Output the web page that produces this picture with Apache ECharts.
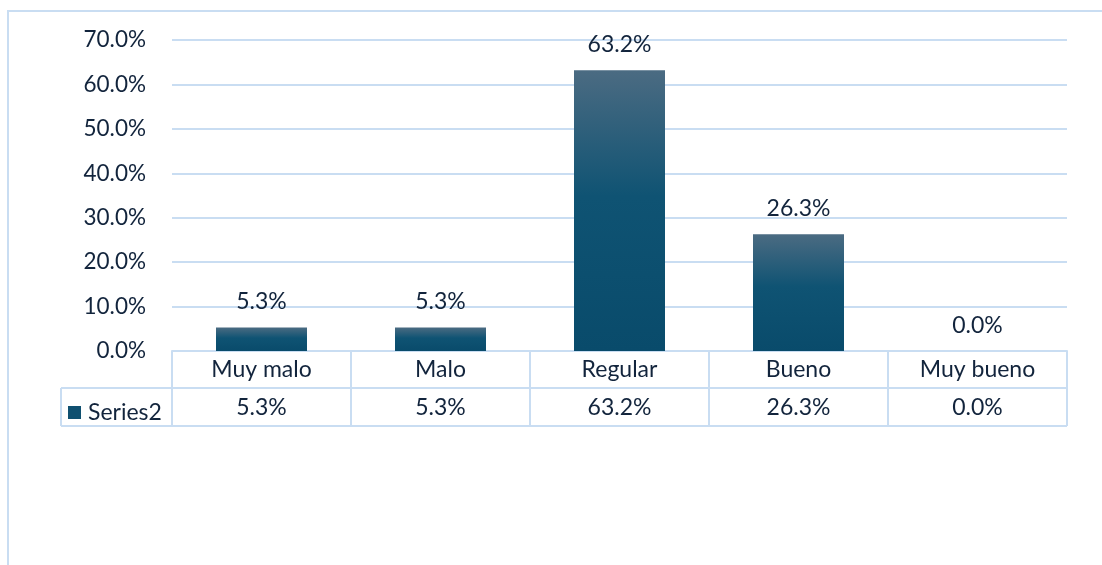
<!DOCTYPE html>
<html>
<head>
<meta charset="utf-8">
<style>
  html, body { margin: 0; padding: 0; background: #fff; }
  #chart { width: 1102px; height: 565px; }
</style>
<script src="https://cdn.jsdelivr.net/npm/echarts@6/dist/echarts.min.js"></script>
</head>
<body>
<div id="chart"></div>
<script>
const categories = ['Muy malo', 'Malo', 'Regular', 'Bueno', 'Muy bueno']
const values = [5.3, 5.3, 63.2, 26.3, 0.0]
const seriesName = 'Series2'

const textColor = '#12243c'
const lineColor = '#c9ddf2'
const font = 'Lato'
const fmt = (v) => Number(v).toFixed(1) + '%'

const grid = { left: 172, right: 35, top: 40, bottom: 214 }
const W = 1102, H = 565
const plotBottom = H - grid.bottom
const plotRight = W - grid.right
const rowH = 37
const tableBottom = plotBottom + 75

const chart = echarts.init(document.getElementById('chart'))

const option = {
  animation: false,
  textStyle: { fontFamily: font },
  grid: grid,
  legend: {
    data: [{ name: seriesName, itemStyle: { color: '#0f5070' } }],
    left: 63,
    top: plotBottom + rowH + 8,
    icon: 'rect',
    itemWidth: 13,
    itemHeight: 13,
    itemGap: 0,
    textStyle: { fontSize: 23, color: textColor, fontFamily: font, padding: [0, 0, 0, 2] },
  },
  xAxis: [
    {
      type: 'category',
      data: categories,
      axisLine: { lineStyle: { color: lineColor, width: 2 } },
      axisTick: { show: true, length: 75, lineStyle: { color: lineColor, width: 2 } },
      axisLabel: { fontSize: 23, color: textColor, margin: 7, fontFamily: font },
    },
    {
      type: 'category',
      data: categories,
      position: 'bottom',
      offset: 0,
      axisLine: { show: false },
      axisTick: { show: false },
      axisLabel: {
        fontSize: 23,
        color: textColor,
        margin: 45,
        fontFamily: font,
        formatter: (v, i) => fmt(values[i]),
      },
    },
  ],
  yAxis: {
    type: 'value',
    min: 0,
    max: 70,
    interval: 10,
    axisLine: { show: false },
    axisTick: { show: false },
    splitLine: { lineStyle: { color: lineColor, width: 2 } },
    axisLabel: { fontSize: 22.5, color: textColor, margin: 26, fontFamily: font, formatter: fmt },
  },
  series: [
    {
      name: seriesName,
      type: 'bar',
      xAxisIndex: 0,
      data: values,
      barWidth: 91,
      itemStyle: {
        color: new echarts.graphic.LinearGradient(0, 0, 0, 1, [
          { offset: 0, color: '#4b6b82' },
          { offset: 0.45, color: '#0f5373' },
          { offset: 1, color: '#094b6b' },
        ]),
      },
      label: {
        show: true,
        position: 'top',
        distance: 14,
        fontSize: 23,
        color: textColor,
        fontFamily: font,
        formatter: (p) => fmt(p.value),
      },
    },
  ],
  graphic: [
    {
      type: 'rect',
      shape: { x: 8, y: 11, width: 1300, height: 800 },
      style: { fill: 'none', stroke: lineColor, lineWidth: 2 },
      silent: true,
    },
    {
      type: 'line',
      shape: { x1: 61, y1: plotBottom + rowH, x2: plotRight, y2: plotBottom + rowH },
      style: { stroke: lineColor, lineWidth: 2 },
      silent: true,
    },
    {
      type: 'line',
      shape: { x1: 61, y1: tableBottom, x2: plotRight, y2: tableBottom },
      style: { stroke: lineColor, lineWidth: 2 },
      silent: true,
    },
    {
      type: 'line',
      shape: { x1: 61, y1: plotBottom + rowH, x2: 61, y2: tableBottom },
      style: { stroke: lineColor, lineWidth: 2 },
      silent: true,
    },
  ],
}

chart.setOption(option)
window.addEventListener('resize', () => chart.resize())
</script>
</body>
</html>
